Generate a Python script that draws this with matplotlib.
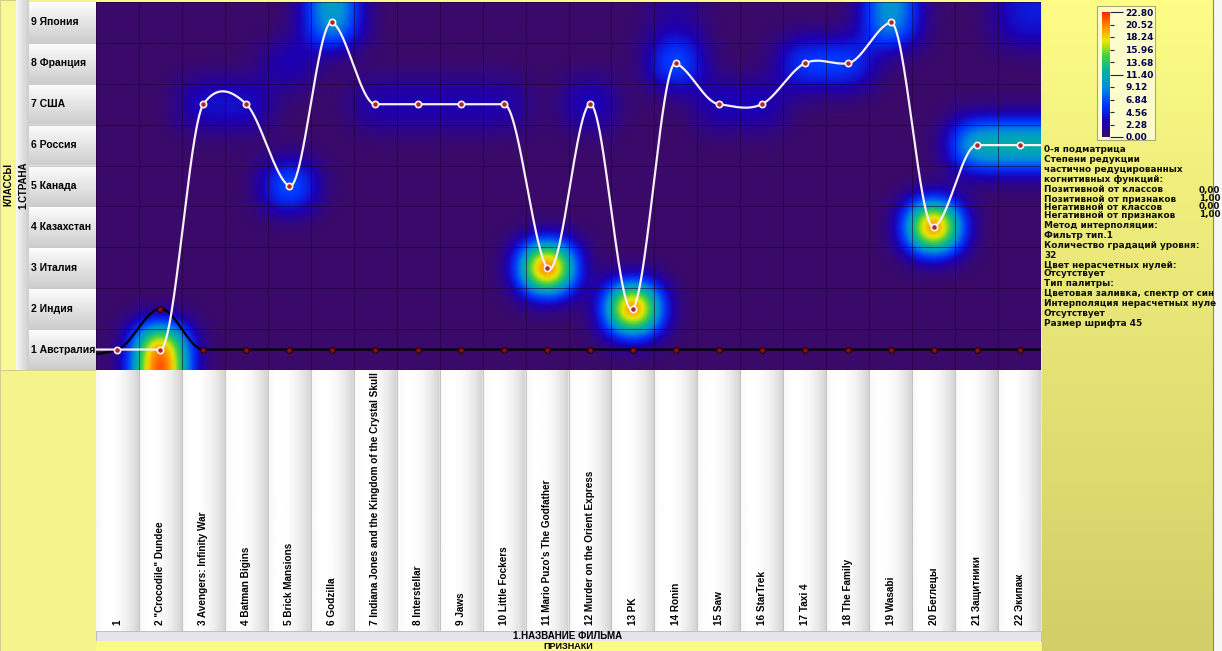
import numpy as np
import matplotlib
matplotlib.use('Agg')
import matplotlib.pyplot as plt
import matplotlib.transforms as mtransforms
from matplotlib.colors import LinearSegmentedColormap
from matplotlib.patches import Rectangle
from math import erf, sqrt

W, H = 1222, 651

classes = ['1 Австралия', '2 Индия', '3 Италия', '4 Казахстан', '5 Канада',
           '6 Россия', '7 США', '8 Франция', '9 Япония']
films = ['1', '2 "Crocodile" Dundee', '3 Avengers: Infinity War', '4 Batman Bigins',
         '5 Brick Mansions', '6 Godzilla',
         '7 Indiana Jones and the Kingdom of the Crystal Skull', '8 Interstellar',
         '9 Jaws', '10 Little Fockers', "11 Mario Puzo's The Godfather",
         '12 Murder on the Orient Express', '13 PK', '14 Ronin', '15 Saw',
         '16 StarTrek', '17 Taxi 4', '18 The Family', '19 Wasabi', '20 Беглецы',
         '21 Защитники', '22 Экипаж']

# class of each film (white curve) and second curve (black)
white_rows = [1, 1, 7, 7, 5, 9, 7, 7, 7, 7, 3, 7, 2, 8, 7, 7, 8, 8, 9, 4, 6, 6]
black_rows = [1, 2, 1, 1, 1, 1, 1, 1, 1, 1, 1, 1, 1, 1, 1, 1, 1, 1, 1, 1, 1, 1]

# non-zero cells of the matrix (column, row, value)
cell_cols = [2, 11, 13, 20, 6, 19, 21, 22, 5, 14, 17, 18, 5, 3, 4, 7, 8, 9, 10, 12, 15, 16, 22, 14]
cell_rows = [1, 3, 2, 4, 9, 9, 6, 6, 5, 8, 8, 8, 8, 7, 7, 7, 7, 7, 7, 7, 7, 7, 9, 9]
cell_vals = [18.0, 20.0, 19.5, 19.5, 8.5, 8.0, 9.5, 9.5, 6.5, 6.0, 5.0, 5.0,
             2.5, 3.0, 3.0, 2.2, 2.2, 2.2, 2.2, 3.0, 2.5, 2.5, 3.0, 1.5]
vmax = 22.8

info_lines = ['0-я подматрица', 'Степени редукции', 'частично редуцированных',
              'когнитивных функций:', 'Позитивной от классов', 'Позитивной от признаков',
              'Негативной от классов', 'Негативной от признаков', 'Метод интерполяции:',
              'Фильтр тип.1', 'Количество градаций уровня:', '32',
              'Цвет нерасчетных нулей:', 'Отсутствует', 'Тип палитры:',
              'Цветовая заливка, спектр от син',
              'Интерполяция нерасчетных нуле', 'Отсутствует', 'Размер шрифта 45']
info_y = [150, 160, 170, 179, 190, 199, 207, 215, 226, 235, 246, 255, 265, 274,
          284, 294, 304, 313, 323]
info_vals = {4: '0,00', 5: '1,00', 6: '0,00', 7: '1,00'}

FONT = 'Liberation Sans'
FONT2 = 'DejaVu Sans'


def px_axes(x0, y0, x1, y1):
    return fig.add_axes([x0 / W, 1 - y1 / H, (x1 - x0) / W, (y1 - y0) / H])


def akima(x, y, xs):
    x = np.asarray(x, float)
    y = np.asarray(y, float)
    m = np.diff(y) / np.diff(x)
    M = np.concatenate([[0, 0], m, [0, 0]])
    M[1] = 2 * M[2] - M[3]
    M[0] = 2 * M[1] - M[2]
    M[-2] = 2 * M[-3] - M[-4]
    M[-1] = 2 * M[-2] - M[-3]
    t = np.zeros(len(x))
    for i in range(len(x)):
        w1 = abs(M[i + 3] - M[i + 2])
        w2 = abs(M[i + 1] - M[i])
        if w1 + w2 > 0:
            t[i] = (w1 * M[i + 1] + w2 * M[i + 2]) / (w1 + w2)
        else:
            t[i] = 0.5 * (M[i + 1] + M[i + 2])
    idx = np.clip(np.searchsorted(x, xs) - 1, 0, len(x) - 2)
    h = x[idx + 1] - x[idx]
    s = (xs - x[idx]) / h
    h00 = 2 * s**3 - 3 * s**2 + 1
    h10 = s**3 - 2 * s**2 + s
    h01 = -2 * s**3 + 3 * s**2
    h11 = s**3 - s**2
    return h00 * y[idx] + h10 * h * t[idx] + h01 * y[idx + 1] + h11 * h * t[idx + 1]


fig = plt.figure(figsize=(W / 100, H / 100), dpi=100)
fig.patch.set_facecolor('#f4f28a')

# ---- background decorations (pixel coordinates)
bg = fig.add_axes([0, 0, 1, 1])
bg.set_xlim(0, W)
bg.set_ylim(H, 0)
bg.axis('off')
yel = LinearSegmentedColormap.from_list('yel', ['#fcfc86', '#d2ce68'])
bg.imshow(np.linspace(0, 1, 100).reshape(-1, 1), cmap=yel, aspect='auto',
          extent=(1042, 1213, H, 0), zorder=0)
bg.add_patch(Rectangle((1213, 0), 9, H, fc='#f6f6f2', ec='none', zorder=1))
bg.plot([1213, 1213], [0, H], color='#8a8a50', lw=0.8, zorder=2)
bg.add_patch(Rectangle((0, 0), 16, 370, fc='#f8f894', ec='#c8c890', lw=0.6, zorder=1))
grey = LinearSegmentedColormap.from_list('grey', ['#f6f6f6', '#cfcfcf'])
bg.imshow(np.linspace(0, 1, 20).reshape(1, -1), cmap=grey, aspect='auto',
          extent=(16, 29, 370, 0), zorder=1)
bg.add_patch(Rectangle((0, 370), 96, 281, fc='#f5f38c', ec='#c8c890', lw=0.6, zorder=1))
bg.add_patch(Rectangle((96, 631), 945, 10, fc='#e4e4ea', ec='#b8b8c0', lw=0.6, zorder=1))
bg.add_patch(Rectangle((96, 641), 945, 10, fc='#fbfa88', ec='none', zorder=1))
bg.add_patch(Rectangle((96, 0), 945, 2, fc='#fbfa88', ec='none', zorder=1))

bg.text(8, 185, 'КЛАССЫ', rotation=90, ha='center', va='center', fontsize=7,
        fontweight='bold', family=FONT)
bg.text(23, 185, '1.СТРАНА', rotation=90, ha='center', va='center', fontsize=7,
        fontweight='bold', family=FONT)
bg.text(568, 636, '1.НАЗВАНИЕ ФИЛЬМА', ha='center', va='center', fontsize=7,
        fontweight='bold', family=FONT)
bg.text(568, 646.5, 'ПРИЗНАКИ', ha='center', va='center', fontsize=6.5,
        fontweight='bold', family=FONT)

for i, (line, y) in enumerate(zip(info_lines, info_y)):
    bg.text(1044, y, line, ha='left', va='center', fontsize=6.4, fontweight='bold',
            family=FONT2, color='#101010', zorder=5)
    if i in info_vals:
        bg.text(1199, y, info_vals[i], ha='left', va='center', fontsize=6.4,
                fontweight='bold', family=FONT2, color='#101010', zorder=5)

# colorbar frame
bg.add_patch(Rectangle((1097, 6), 58, 134, fc='#fdfdcc', ec='#a8a878', lw=0.8, zorder=3))

# ---- heatmap: cell blocks smoothed by a gaussian filter
ncol, nrow = len(films), len(classes)
grid = np.zeros((nrow, ncol))
for c, r, v in zip(cell_cols, cell_rows, cell_vals):
    grid[r - 1, c - 1] = v
k = 16
sig = 0.36
up = np.kron(grid, np.ones((k, k)))
sigma = sig * k
rad = int(3 * sigma)
g = np.exp(-0.5 * (np.arange(-rad, rad + 1) / sigma) ** 2)
g /= g.sum()
pad = np.pad(up, rad, mode='edge')
field = np.apply_along_axis(lambda v: np.convolve(v, g, 'valid'), 1, pad)
field = np.apply_along_axis(lambda v: np.convolve(v, g, 'valid'), 0, field)
field /= erf(0.5 / (sig * sqrt(2))) ** 2

cmap = LinearSegmentedColormap.from_list('spec', [
    (0.00, '#3a0a6a'), (0.12, '#1c00b4'), (0.25, '#0034ff'), (0.40, '#0090d8'),
    (0.52, '#00b0a4'), (0.65, '#44d040'), (0.77, '#ece800'), (0.89, '#ff8a00'),
    (1.00, '#ff2400')])

ax = px_axes(96, 2, 1041, 370)
im = ax.imshow(field, origin='lower', extent=(0.5, ncol + 0.5, 0.5, nrow + 0.5),
               cmap=cmap, vmin=0, vmax=vmax, aspect='auto', interpolation='bilinear')
ax.set_xlim(0.5, ncol + 0.5)
ax.set_ylim(0.5, nrow + 0.5)
ax.set_xticks(np.arange(0.5, ncol + 1, 1), minor=True)
ax.set_yticks(np.arange(0.5, nrow + 1, 1), minor=True)
ax.grid(which='minor', color='#1a0030', lw=0.7, alpha=0.55)
ax.tick_params(which='both', length=0, labelbottom=False, labelleft=False)
ax.set_xticks([])
ax.set_yticks([])
for s in ax.spines.values():
    s.set_visible(False)

cols = np.arange(1, ncol + 1)
xx = np.r_[0, cols, ncol + 1]
xs = np.linspace(0.5, ncol + 0.5, 1200)
wy = np.r_[white_rows[0], white_rows, white_rows[-1]]
by = np.r_[black_rows[0], black_rows, black_rows[-1]]
ax.plot(xs, akima(xx, by, xs), color='black', lw=1.6, zorder=3)
ax.plot(cols, black_rows, 'o', ms=4, mfc='#8a1010', mec='#2a0000', mew=0.8, zorder=4)
ax.plot(xs, akima(xx, wy, xs), color='#f8eef6', lw=1.6, zorder=5)
ax.plot(cols, white_rows, 'o', ms=4.5, mfc='#b02828', mec='#fff4f8', mew=1.2, zorder=6)

# ---- row labels
ay = px_axes(29, 2, 96, 370)
rg = np.tile(np.linspace(0.80, 0.99, 40), nrow).reshape(-1, 1)
ay.imshow(rg, cmap='gray', vmin=0, vmax=1, aspect='auto', origin='lower',
          extent=(0, 1, 0.5, nrow + 0.5))
ay.set_xlim(0, 1)
ay.set_ylim(0.5, nrow + 0.5)
ay.axis('off')
for r, name in enumerate(classes, start=1):
    ay.text(0.035, r, name, ha='left', va='center', fontsize=7.5, fontweight='bold',
            family=FONT)
    ay.axhline(r - 0.5, color='#c8c0c0', lw=0.6)

# ---- column labels
axx = px_axes(96, 370, 1041, 631)
t = np.linspace(0, 1, 40)
cg = np.tile(1 - 0.17 * ((t - 0.3) / 0.7) ** 2, ncol).reshape(1, -1)
axx.imshow(cg, cmap='gray', vmin=0, vmax=1, aspect='auto',
           extent=(0.5, ncol + 0.5, 0, 1))
axx.set_xlim(0.5, ncol + 0.5)
axx.set_ylim(0, 1)
axx.axis('off')
trans = mtransforms.blended_transform_factory(axx.transData, axx.transAxes)
for c, name in zip(cols, films):
    axx.text(c, 0.022, name, rotation=90, ha='center', va='bottom', fontsize=7.2,
             fontweight='bold', family=FONT, transform=trans)
    axx.axvline(c + 0.5, color='#c0b8b8', lw=0.6)

# ---- colorbar
cax = px_axes(1102, 12, 1110, 137)
cb = fig.colorbar(im, cax=cax)
cb.outline.set_visible(False)
ticks = np.linspace(0, vmax, 11)
major = [0, 5, 10]
cax.set_yticks(ticks[major], labels=['%.2f' % ticks[i] for i in major])
minor = [i for i in range(11) if i not in major]
cax.set_yticks(ticks[minor], labels=['%.2f' % ticks[i] for i in minor], minor=True)
for lab in cax.get_yticklabels(which='both'):
    lab.set_family(FONT2)
    lab.set_fontweight('bold')
cax.tick_params(which='major', length=9, width=0.8, color='#202040', labelsize=6.5,
                labelcolor='#000050', pad=2)
cax.tick_params(which='minor', length=3, width=0.8, color='#202040', labelsize=6.5,
                labelcolor='#000050', pad=8)

fig.savefig('out.png', dpi=100)
